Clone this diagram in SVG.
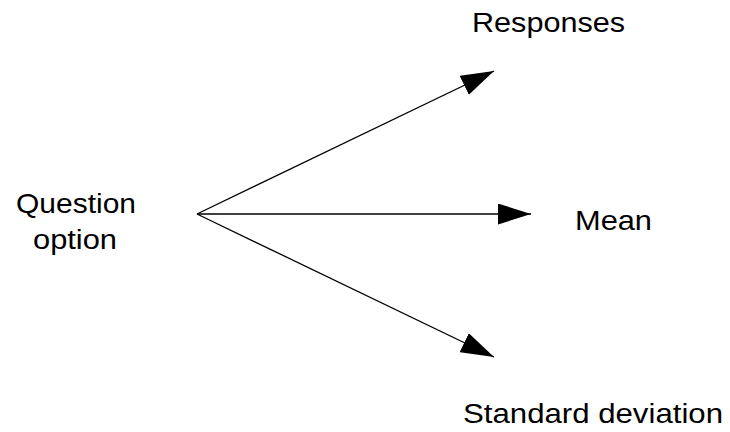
<svg xmlns="http://www.w3.org/2000/svg" width="730" height="432" viewBox="0 0 730 432">
  <style>
    .label { font-family: "Liberation Sans", Arial, sans-serif; font-size: 27.5px; fill: #000; text-anchor: middle; }
    .edge { stroke: #000; stroke-width: 1.3; fill: none; marker-end: url(#arrow); }
  </style>
  <defs>
    <marker id="arrow" markerUnits="userSpaceOnUse" markerWidth="34" markerHeight="22" refX="33" refY="10.5" orient="auto">
      <path d="M0,0 L33,10.5 L0,21 Z" fill="#000"/>
    </marker>
  </defs>
  <rect width="730" height="432" fill="#fff"/>

  <g id="connectors">
    <line class="edge" x1="197" y1="214" x2="494" y2="71"/>
    <line class="edge" x1="197" y1="214" x2="531" y2="214"/>
    <line class="edge" x1="197" y1="214" x2="494" y2="357"/>
  </g>

  <g id="question-option">
    <text class="label" x="76" y="213" textLength="120" lengthAdjust="spacingAndGlyphs">Question</text>
    <text class="label" x="75" y="249" textLength="84" lengthAdjust="spacingAndGlyphs">option</text>
  </g>
  <g id="responses">
    <text class="label" x="548.5" y="32" textLength="153" lengthAdjust="spacingAndGlyphs">Responses</text>
  </g>
  <g id="mean">
    <text class="label" x="613.5" y="230" textLength="77" lengthAdjust="spacingAndGlyphs">Mean</text>
  </g>
  <g id="standard-deviation">
    <text class="label" x="593" y="423" textLength="260" lengthAdjust="spacingAndGlyphs">Standard deviation</text>
  </g>
</svg>
